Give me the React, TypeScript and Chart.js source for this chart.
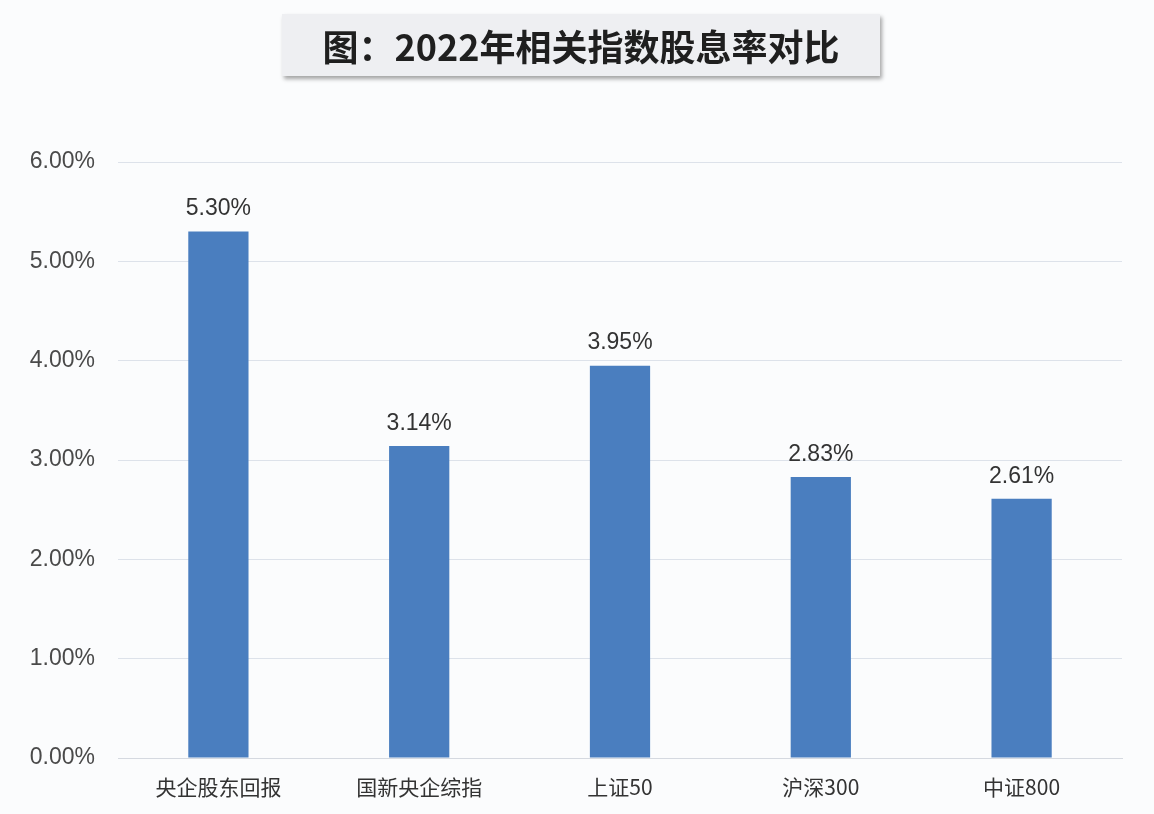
import React, { useEffect, useRef } from "react";
import { Chart, registerables } from "chart.js";

Chart.register(...registerables);

const categories = ["央企股东回报", "国新央企综指", "上证50", "沪深300", "中证800"];
const dividendYield = [5.3, 3.14, 3.95, 2.83, 2.61];
const yTicks = [0, 1, 2, 3, 4, 5, 6];
const titleText = "图：2022年相关指数股息率对比";

const labelPlugin = {
  id: "barLabels",
  afterDatasetsDraw(chart: any) {
    const ctx = chart.ctx;
    const meta = chart.getDatasetMeta(0);
    ctx.save();
    ctx.font = "23px 'Liberation Sans', Arial, sans-serif";
    ctx.fillStyle = "#333333";
    ctx.textAlign = "center";
    ctx.textBaseline = "bottom";
    meta.data.forEach((bar: any, i: number) => {
      ctx.fillText(dividendYield[i].toFixed(2) + "%", bar.x, bar.y - 11);
    });
    ctx.restore();
  },
};

export default function App() {
  const ref = useRef<HTMLCanvasElement>(null);
  useEffect(() => {
    document.body.style.margin = "0";
    const chart = new Chart(ref.current!, {
      type: "bar",
      data: {
        labels: categories,
        datasets: [
          {
            data: dividendYield,
            backgroundColor: "#4a7ebf",
            barPercentage: 0.6,
            categoryPercentage: 0.5,
          },
        ],
      },
      options: {
        animation: false,
        responsive: false,
        layout: { padding: { top: 162, right: 32, left: 0, bottom: 0 } },
        plugins: { legend: { display: false }, tooltip: { enabled: false } },
        scales: {
          x: {
            grid: { display: false, drawTicks: false },
            border: { color: "#d5d9e0", width: 1 },
            ticks: {
              color: "#333333",
              padding: 16,
              font: { size: 21, family: "'Noto Sans CJK SC', sans-serif" },
            },
            afterFit(scale: any) {
              scale.height = 56;
            },
          },
          y: {
            min: 0,
            max: 6,
            afterBuildTicks(scale: any) {
              scale.ticks = yTicks.map((v) => ({ value: v }));
            },
            grid: { color: "#dde2ea", drawTicks: false },
            border: { display: false },
            ticks: {
              color: "#4a4a4a",
              padding: 23,
              font: { size: 23, family: "'Liberation Sans', Arial, sans-serif" },
              callback: (v: any) => Number(v).toFixed(2) + "%",
            },
            afterFit(scale: any) {
              scale.width = 118;
            },
          },
        },
      },
      plugins: [labelPlugin],
    });
    return () => chart.destroy();
  }, []);

  return (
    <div style={{ position: "relative", width: 1154, height: 814, background: "#fbfcfd", overflow: "hidden" }}>
      <canvas ref={ref} width={1154} height={814} style={{ position: "absolute", left: 0, top: 0 }} />
      <div
        style={{
          position: "absolute",
          left: 282,
          top: 14,
          width: 598,
          height: 62,
          background: "#eeeff2",
          boxShadow: "2px 3px 4px rgba(0,0,0,0.35)",
          display: "flex",
          alignItems: "center",
          justifyContent: "center",
          fontFamily: "'Noto Sans CJK SC', sans-serif",
          fontWeight: 700,
          fontSize: 36,
          color: "#1f1f1f",
        }}
      >
        {titleText}
      </div>
    </div>
  );
}
